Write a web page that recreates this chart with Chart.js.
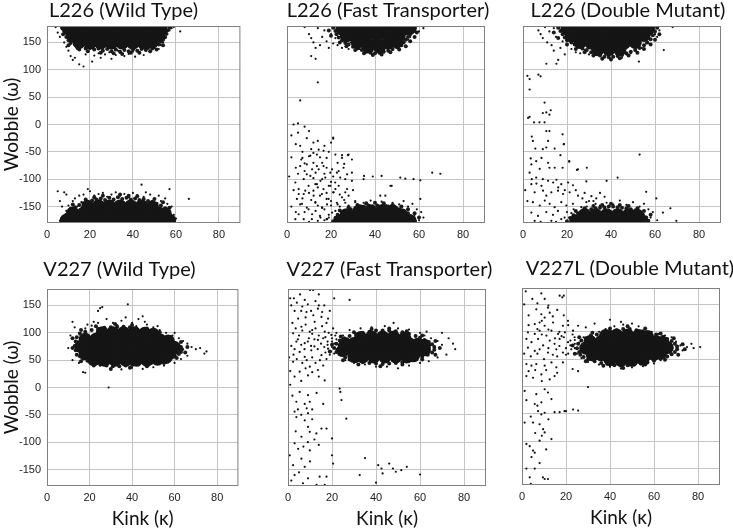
<!DOCTYPE html>
<html>
<head>
<meta charset="utf-8">
<script src="https://cdn.jsdelivr.net/npm/chart.js@4.4.1/dist/chart.umd.min.js"></script>
<style>
    html, body { margin: 0; padding: 0; background: #fff; width: 733px; height: 531px; overflow: hidden; }
    canvas { position: absolute; }
</style>
</head>
<body>
<canvas id="p1"></canvas>
<canvas id="p2"></canvas>
<canvas id="p3"></canvas>
<canvas id="p4"></canvas>
<canvas id="p5"></canvas>
<canvas id="p6"></canvas>
<script>
const xTickValues = [0, 20, 40, 60, 80];
const yTickValues = [-150, -100, -50, 0, 50, 100, 150];
const panelTitles = ['L226 (Wild Type)', 'L226 (Fast Transporter)', 'L226 (Double Mutant)',
    'V227 (Wild Type)', 'V227 (Fast Transporter)', 'V227L (Double Mutant)'];
const xTitle = 'Kink (κ)';
const yTitle = 'Wobble (ω)';

// dense middle of each cloud [kink, wobble]
const l226WildCore = [
    [10,175],[15,175],[20,175],[25,175],[30,175],[35,175],[40,175],[45,175],[50,175],[53,175],
    [12,162],[17,162],[22,162],[27,162],[32,162],[37,162],[42,162],[47,162],[52,162],
    [15,150],[20,149],[25,149],[30,149],[35,149],[40,149],[45,149],[49,151],
    [9,-175],[14,-175],[19,-175],[24,-175],[29,-175],[34,-175],[39,-175],[44,-175],[49,-175],[54,-175],[57,-175],
    [12,-162],[17,-162],[22,-162],[27,-162],[32,-162],[37,-162],[42,-162],[47,-162],[52,-162],[55,-163],
    [19,-150],[24,-149],[29,-149],[34,-149],[39,-149],[44,-149],[49,-151]
];
// ragged rim of each cloud
const l226WildEdge = [
    [7,177],[8,171],[7.5,165],[9,160],[10,154],[11,149],[13,146],[14,141],[16,143],[18,139],[20,141],[22,137],
    [24,139],[26,135],[28,138],[30,134],[32,137],[34,133],[36,136],[38,134],[40,137],[42,135],[44,138],[46,136],
    [47,140],[49,139],[50,144],[52,146],[53,151],[54,155],[55,160],[55.5,166],[56,172],[57,177],[10,145],
    [15,137],[25,131],[35,129],[43,131],[51,137],[54,145],[12,156],[19,134],[31,130],[39,131],[48,134],
    [7,-177],[8,-171],[9,-165],[10,-159],[11,-154],[13,-151],[15,-147],[17,-144],[19,-141],[21,-139],[23,-137],
    [25,-135],[27,-138],[29,-134],[31,-137],[33,-133],[35,-136],[37,-134],[39,-137],[41,-135],[43,-138],
    [45,-136],[47,-140],[49,-141],[51,-145],[53,-148],[55,-153],[56,-158],[57,-164],[58,-170],[59,-176],
    [12,-146],[18,-137],[26,-130],[34,-128],[42,-131],[50,-136],[54,-142],[57,-152],[22,-133],[38,-130]
];
// loose single structures
const l226WildSpread = [
    [4,178],[5,168],[6,160],[7,174],[8,150],[9,142],[10,135],[11,125],[12,118],[13,122],[14,138],[15,110],
    [17,106],[18,128],[19,133],[20,138],[21,115],[22,126],[24,130],[25,122],[26,136],[27,128],[29,132],
    [30,120],[32,127],[33,135],[34,131],[36,125],[38,129],[40,133],[41,124],[42,136],[43,130],[45,127],
    [46,135],[48,132],[50,140],[52,138],[53,145],[54,150],[55,158],[56,165],[57,172],[58,176],[59,178],[62,170],
    [5,-122],[8,-124],[9,-128],[6,-140],[7,-150],[9,-158],[10,-148],[12,-140],[13,-135],[14,-150],[15,-130],
    [16,-142],[17,-128],[19,-118],[20,-122],[22,-130],[24,-127],[26,-125],[27,-138],[28,-132],[30,-128],
    [32,-124],[34,-130],[35,-136],[36,-127],[38,-133],[40,-125],[42,-129],[43,-138],[44,-110],[45,-132],
    [46,-124],[48,-128],[50,-136],[52,-130],[53,-140],[55,-135],[56,-145],[57,-118],[58,-150],[59,-165],
    [60,-172],[66,-136],[8,-170],[6,-176]
];

const l226FastCore = [
    [25,175],[29,175],[34,175],[39,175],[44,175],[49,175],[54,175],[56,176],
    [27,162],[31,162],[36,162],[41,162],[46,162],[51,162],
    [32,150],[36,149],[41,149],[46,149],[50,151],
    [37,142],[42,142],
    [24,-176],[29,-176],[34,-176],[39,-176],[44,-176],[49,-176],[54,-176],[56,-176],
    [27,-165],[32,-164],[37,-164],[42,-164],[47,-164],[52,-165],
    [33,-158],[38,-158],[43,-158],[48,-158]
];
const l226FastEdge = [
    [21,177],[22,171],[22.5,165],[23.5,159],[25,154],[26.5,149],[28,146],[30,142],[32,139],[34,136],[36,133],
    [38,131],[40,130],[42,131],[44,133],[46,135],[48,138],[50,141],[52,145],[53,150],[54,155],[55,160],
    [56,165],[57,171],[58,177],[19,172],[20,162],[24,150],[27,143],[31,136],[35,130],[39,127],[43,128],
    [47,132],[51,137],[54,143],[56,152],[58,160],[59,168],
    [21,-177],[22,-171],[23,-165],[25,-161],[27,-158],[29,-155],[31,-153],[33,-151],[35,-150],[37,-148],
    [39,-150],[41,-148],[43,-150],[45,-149],[47,-151],[49,-153],[51,-155],[53,-158],[55,-162],[56,-167],
    [57,-172],[58,-177],[24,-157],[28,-151],[32,-147],[36,-144],[40,-143],[44,-144],[48,-147],[52,-150],
    [55,-155],[58,-162],[60,-170]
];
const l226FastSpread = [
    [8,178],[10,165],[11,158],[12,150],[13,140],[13,120],[11,125],[14,176],[15,145],[16,160],[17,172],
    [18,152],[19,140],[20,165],[21,148],[22,158],[23,145],[24,150],[25,140],[27,148],[28,138],[29,150],
    [30,143],[31,135],[33,138],[35,132],[44,133],[46,138],[48,136],[50,142],[52,145],[53,150],[55,155],
    [56,160],[57,168],[58,174],[60,170],[62,176],
    [14,77],[6,44],
    [3,0],[5,2],[8,-4],[10,-12],[4,-36],[6,-39],[12,-33],[14,-30],[17,-39],[20,-33],[21,-26],[21,-24],
    [4,-79],[6.5,-64],[8,-71],[10.6,-57],[13.6,-55],[16.6,-48],[22,-55],[25,-56],[27.7,-56],[7,-61],
    [10,-58],[12,-52],[14.4,-46],[18,-61],[25,-61],[28,-55],[29.5,-64],
    [3.8,-106],[7.6,-100],[9,-91],[11.4,-82],[13.6,-76],[16,-70],[18,-79],[20.5,-82],[23.5,-85],
    [25.7,-79],[29.5,-88],[26.5,-100],[6,-76],[9,-73],[12,-70],[14.4,-82],[16.6,-76],[19.7,-88],
    [22.7,-88],[24.2,-97],[27.3,-91],[29.5,-103],[10.6,-94],[17.4,-97],[15.2,-103],
    [5.3,-118],[7.6,-127],[9.8,-112],[12,-121],[13.6,-109],[15,-130],[16.6,-118],[19,-112],[21,-124],
    [23.5,-112],[26.5,-124],[12.9,-109],[19.7,-112],[21.9,-106],[5.3,-127],[8.3,-121],[12.1,-130],
    [15.9,-127],[18.9,-136],[21.2,-124],[25,-133],[27.3,-118],
    [4.5,-136],[6.8,-145],[9.8,-155],[12.9,-142],[16,-152],[18,-136],[20.5,-161],[5.3,-164],[3.8,-173],
    [11.3,-173],[15,-167],[18,-173],[6,-146],[9,-152],[12.9,-143],[15.9,-152],[18.2,-146],[22.7,-143],
    [26.5,-143],[31,-140],[34.8,-143],[7.6,-173],[11.4,-164],[15.2,-170],[18.2,-173],
    [2,-20],[5,-15],[9,-25],[7,-50],[11,-45],[15,-60],[19,-50],[23,-70],[26,-72],[5,-90],[8,-85],[12,-98],
    [17,-90],[21,-95],[3,-120],[10,-125],[14,-115],[18,-125],[22,-118],[24,-128],[28,-130],[30,-120],
    [7,-135],[11,-138],[14,-148],[17,-155],[20,-148],[24,-150],[8,-160],[13,-158],[2,-150],[4,-160],
    [10,-178],[14,-176],[19,-170],[1,-95],[2,-60],[13,-88],[16,-100],[20,-105],
    [35,-94],[39,-95],[43,-94],[47,-112],[51.5,-97],[53.8,-99],[57.5,-100],[60.6,-102],[47.6,-112],
    [60.6,-136],[44.7,-130],[66,-88],[69.7,-90],[42.4,-130],[34.8,-100],
    [20,-140],[23,-146],[26,-138],[28,-148],[31,-142],[33,-150],[36,-145],[38,-139],[41,-147],[43,-141],
    [46,-148],[48,-143],[51,-146],[53,-140],[55,-150],[57,-145],[59,-155],[61,-160],[62,-170],[60,-175],
    [58,-165],[22,-158],[19,-165],[17,-175],[21,-178]
];

const l226DoubleCore = [
    [20,175],[24,175],[29,175],[34,175],[39,175],[44,175],[49,175],[54,175],[57,175],
    [22,162],[27,162],[32,162],[37,162],[42,162],[47,162],[52,162],[55,163],
    [26,150],[31,149],[36,149],[41,149],[46,149],[51,150],
    [34,137],[39,137],[44,137],
    [24,-176],[29,-176],[34,-176],[39,-176],[44,-176],[49,-176],[54,-176],
    [28,-165],[33,-165],[38,-165],[43,-165],[48,-165],[52,-166]
];
const l226DoubleEdge = [
    [16,177],[17,171],[18,165],[19,159],[20,154],[22,150],[23.5,146],[25,142],[27,139],[29,136],[31,132],
    [33,129],[35,126],[37,124],[39,123],[41,124],[43,125],[45,127],[47,130],[49,133],[51,136],[53,140],
    [55,145],[56.5,150],[58,156],[59,163],[60,170],[61,177],[14,168],[16,158],[20,146],[24,138],[28,132],
    [32,126],[36,120],[40,119],[44,121],[48,126],[52,131],[55,138],[58,146],[60,155],[62,165],
    [20,-177],[21.5,-171],[23,-166],[25,-162],[27,-159],[29,-157],[31,-155],[33,-153],[35,-152],[37,-151],
    [39,-150],[41,-150],[43,-151],[45,-152],[47,-153],[49,-155],[51,-157],[53,-161],[54.5,-165],[56,-170],
    [57,-176],[24,-158],[28,-153],[32,-149],[36,-147],[40,-145],[44,-147],[48,-149],[52,-153],[55,-158],[58,-165]
];
const l226DoubleSpread = [
    [7,172],[8,165],[9,158],[11,150],[12,170],[13,145],[14,135],[15,160],[16,118],[17,140],[18,152],
    [19,128],[20,145],[22,138],[24,132],[26,130],[28,136],[30,128],[32,125],[34,130],[36,120],[45,122],
    [47,128],[49,130],[51,135],[52.7,115],[54,140],[56,148],[58,155],[60,165],[62,172],[64,136],[68,178],
    [61,160],[10,178],[14,176],
    [10.6,111],[15.2,111],[2,89],[3,83],[7,91],[8,88],[3,64],[9.8,40],[9,21],[10.6,22],[12.6,26],[12,18],
    [2.3,12],[3,14],[5,4],[7.5,4],[9.8,4],[10.6,-12],[12,-12],[18,-18],[4,-22],[4.5,-30],[11.4,-30],
    [18.6,-36],[5.6,-44],[9,-45],[10.6,-42],[14.4,-44],[17,-56],[3.5,-62],[6,-67],[8.4,-61],[11.4,-70],
    [21,-67],[3.8,-73],[7.6,-81],[12,-79],[14.4,-79],[18,-79],[25,-82],[29,-79],[3,-88],[6,-97],
    [38,-103],[28.8,-104],[53,-55],[43,-97],[56,-123],[60.6,-135],[63.6,-161],[67,-153],[69.7,-176],
    [24.5,-83],[21,-68],[18.5,-36],
    [3.8,-109],[6.1,-108],[8.4,-112],[11.4,-103],[13.7,-106],[15.2,-101],[17.4,-109],[20.5,-106],
    [22.7,-111],[5.3,-124],[9.1,-121],[10.6,-130],[12.9,-124],[15.9,-121],[18.2,-127],[21.2,-124],
    [25,-130],[31.1,-131],[33.3,-135],[37.1,-132],[4.5,-142],[7.6,-148],[9.9,-139],[12.1,-145],
    [14.4,-151],[17.4,-142],[19.7,-148],[22.7,-145],[26.5,-151],[28.8,-142],[3.8,-161],[6.8,-167],
    [10.6,-160],[13.6,-165],[15.9,-158],[18.9,-170],[22,-162],[25,-167],[5.3,-176],[12.9,-176],[17.4,-173],
    [4,-100],[9,-100],[16,-115],[19,-120],[24,-120],[27,-135],[30,-140],[33,-145],[23,-155],[20,-160],
    [8,-178],[15,-178],[2,-140],[1,-120],[24,-175],[21,-170],[28,-125],[35,-125],
    [29,-150],[32,-140],[35,-148],[38,-143],[41,-146],[44,-139],[47,-147],[50,-142],[53,-150],[55,-145],
    [57,-155],[59,-160],[58,-170],[61,-175]
];

const v227WildCore = [
    [26,100],[31,100],[36,100],[41,100],[46,99],[50,97],
    [18,88],[23,88],[28,88],[33,88],[38,88],[43,88],[48,88],[53,87],[57,85],
    [16,75],[21,75],[26,75],[31,75],[36,75],[41,75],[46,75],[51,75],[56,75],[60,73],
    [18,62],[23,62],[28,62],[33,62],[38,62],[43,62],[48,62],[53,62],[58,63],
    [22,51],[27,50],[32,50],[37,50],[42,50],[47,50],[52,52],[56,55]
];
const v227WildEdge = [
    [14,60],[13.5,68],[13,76],[13.5,84],[14,92],[15.5,98],[18,102],[21,105],[24,107],[27,109],[30,110],
    [33,111],[36,111],[39,110],[42,108],[45,105],[48,102],[51,98],[54,94],[56,90],[58,86],[60,82],[61.5,78],
    [63,74],[63.5,70],[63,65],[62,61],[60,57],[58,54],[55,50],[52,47],[49,45],[46,43],[43,42],[40,41],
    [37,40],[34,39],[31,39],[28,40],[25,42],[22,45],[19,49],[17,53],[15.5,57],
    [12,72],[12,90],[16,105],[23,112],[32,116],[40,114],[47,108],[53,101],[58,92],[63,83],[66,74],[65,64],
    [61,54],[55,45],[47,39],[39,36],[30,34],[22,40],[16,48]
];
const v227WildSpread = [
    [12,120],[13,110],[11,95],[10,72],[12,50],[15,45],[17,28],[18,27],[25,145],[26,147],[24,140],[29,0],
    [22,120],[28,125],[31,118],[35,122],[38,152],[40,118],[43,125],[45,130],[47,115],[50,110],[53,105],
    [56,100],[59,95],[62,90],[64,85],[66,80],[68,74],[70,70],[72,72],[74,62],[75,66],[66,58],[63,52],
    [60,45],[55,40],[50,37],[45,34],[40,36],[35,33],[30,35],[25,40],[20,45],[16,55],[14,85],[15,100],
    [18,108],[21,113],[60,100],[42,112],[33,114],[27,110],[19,115],[24,118],[37,128],[46,120],[52,112]
];

const v227FastCore = [
    [33,91],[38,92],[43,92],[48,92],[53,90],
    [26,80],[30,80],[35,80],[40,80],[45,80],[50,80],[55,80],[59,79],[62,77],
    [25,68],[29,68],[34,68],[39,68],[44,68],[49,68],[54,68],[59,68],[62,69],
    [30,57],[34,56],[39,56],[44,56],[49,56],[54,56],[57,58]
];
const v227FastEdge = [
    [21,72],[22,80],[22,65],[23.5,86],[25.5,90],[28,94],[31,97],[34,100],[37,102],[40,104],[43,104],[46,104],
    [49,103],[52,101],[55,98],[58,94],[60,91],[62,87],[64,83],[65.5,79],[66.5,74],[66.5,69],[65.5,64],
    [63.5,60],[61,56],[58,52],[55,49],[52,46],[49,45],[46,44],[43,43],[40,44],[37,45],[34,46],[31,48],
    [28,51],[26,55],[24,60],[23,68],
    [20,78],[24,93],[30,101],[38,107],[46,108],[54,103],[61,95],[67,85],[69,72],[67,60],[61,51],[52,42],
    [42,39],[32,42],[25,50],[19,66]
];
const v227FastSpread = [
    [1,163],[2.7,163],[10,178],[11.4,178],[7.6,160],[21,163],[28,160],[13.6,144],[8.4,138],[4.6,126],
    [12.1,120],[15.2,129],[18.2,126],[6.1,111],[9.9,102],[16.7,102],[2.3,99],[19.7,96],[24,93],[3.8,84],
    [7.6,81],[13.6,87],[5.3,65],[10.6,68],[15.2,59],[2.3,47],[7.6,56],[18.2,71],[28.8,68],[5.3,29],
    [9.9,38],[9.1,22],[13.6,32],[16.7,13],[23.5,-2],[23.8,-8],[24.3,-23],[26.5,-57],[5.3,-8],[9.1,-14],
    [3.8,-26],[7.6,-30],[9.9,-26],[3,-44],[9.1,-47],[3.8,-54],[7.6,-60],[9.1,-72],[15.2,-75],[17.5,-75],
    [6.1,-90],[9.9,-81],[12.9,-84],[3,-102],[4.6,-112],[0.8,-124],[9.9,-115],[6.1,-130],[2.3,-142],
    [7.6,-145],[20.5,-139],[3,-160],[9.1,-166],[14.4,-163],[17.5,-163],[6.8,-175],[16.7,-178],
    [20,-124],[20,-93],[14,150],[6,140],[11,105],[16,90],[12,75],[18,84],[20,74],[22,88],[17,64],
    [1.5,150],[3,140],[4,155],[5.5,170],[6.5,148],[8,128],[9,152],[10.5,140],[11.5,132],[12.5,158],
    [14,170],[15.5,138],[16.5,150],[17.5,118],[19,140],[20.5,108],[2,118],[3.5,108],[5,95],[6.5,104],
    [8,115],[9.5,90],[11,98],[12.5,108],[14,95],[15.5,112],[17,92],[18.5,100],[20,84],[21.5,95],[23,78],
    [24.5,72],[1.5,76],[3,70],[4.5,88],[6,78],[7.5,70],[9,84],[10.5,76],[12,88],[13.5,70],[15,80],
    [16.5,74],[18,78],[19.5,66],[21,62],[0.5,55],[2.5,60],[4,52],[6.5,45],[8.5,50],[11,55],[12.5,45],
    [14.5,50],[16,40],[17.5,52],[1,30],[3,20],[6,12],[8,35],[11,28],[14,20],[2,-15],[4.5,-40],[6,-50],
    [8.5,-38],[11,-58],[12,-95],[14,-105],[7,-108],[10,-135],[5,-155],[1.5,-170],[13,-178],[9,-100],
    [3.5,-80],[11,-40],[1,5],[16,-30],[13,-10],
    [35,-129],[41,-142],[42.5,-148],[46,-139],[47.7,-148],[49,-154],[51.5,-151],[54,-145],[32.6,-160],
    [40,-174],[60,-159],[43,-157],
    [20,90],[21,80],[22,70],[19,60],[22,100],[25,95],[28,105],[33,108],[38,110],[44,112],[48,118],
    [50,108],[55,106],[60,100],[62,95],[65,90],[68,85],[70,78],[73,90],[75,80],[76,70],[72,60],[68,55],
    [64,48],[60,45],[55,40],[50,35],[45,38],[40,38],[35,42],[30,45],[26,50],[23,60],[63,102],[70,100]
];

const v227lDoubleCore = [
    [38,93],[43,94],[48,94],[53,93],[57,91],
    [31,82],[36,82],[41,82],[46,82],[51,82],[56,82],[61,82],[64,80],
    [29,70],[33,70],[38,70],[43,70],[48,70],[53,70],[58,70],[63,70],[66,71],
    [32,58],[36,58],[41,58],[46,58],[51,58],[56,58],[60,59],[63,61],
    [40,49],[45,48],[50,48],[55,50]
];
const v227lDoubleEdge = [
    [25,70],[25.5,78],[26,63],[27,84],[29,88],[31.5,92],[34,95],[37,98],[40,101],[43,103],[46,105],[49,105],
    [52,103],[55,101],[58,98],[61,95],[64,91],[66,87],[68,83],[69.5,78],[70.5,73],[70.5,68],[69.5,63],
    [68,59],[66,55],[63,51],[60,47],[57,44],[54,42],[51,40],[48,39],[45,38],[42,39],[39,41],[36,43],
    [33,46],[30,50],[28,54],[26.5,58],
    [23,75],[26,90],[32,98],[40,106],[48,110],[56,106],[63,97],[69,88],[73,77],[74,68],[71,58],[65,49],
    [56,40],[46,34],[37,38],[29,46],[24,60]
];
const v227lDoubleSpread = [
    [1.7,174],[4.7,160],[8.8,170],[10.3,160],[17.1,166],[18.3,163],[19,166],[6.5,141],[8.8,132],
    [10.3,126],[12.6,135],[11.8,144],[5.8,114],[8,117],[10.3,111],[14.1,117],[18.6,111],[20.9,120],
    [2.7,99],[5.8,96],[8,102],[11.1,93],[13.4,102],[16.4,96],[19.5,99],[23.2,102],[25.5,111],
    [2,87],[4.3,81],[7.3,87],[9.6,75],[12.6,84],[14.8,78],[17.1,87],[20.9,81],[23.9,90],
    [2.7,71],[5.8,65],[8,68],[11.8,62],[15.6,68],[18.6,62],[22.4,68],
    [2,41],[4.3,38],[6.5,41],[10.3,38],[13.4,44],[15.6,35],[18.6,44],
    [2,19],[5,16],[8.8,22],[12.6,13],[14.8,19],
    [1.2,-8],[6.5,-14],[10.3,-5],[11.8,-11],[13.4,-23],[8.8,-29],[5.8,-32],
    [7.3,-45],[8.8,-51],[10.3,-48],[14.8,-47],[17.1,-47],[19.3,-45],[20,-45],[23.2,-42],[25.5,-44],
    [1.2,-66],[5,-66],[8,-69],[9.6,-78],[10.3,-84],[13.4,-96],[8,-99],
    [2,-105],[5,-117],[4.3,-129],[5.8,-150],[3.5,-166],[10.3,-169],[11.8,-169],[3.5,-109],[5.8,-121],
    [9.5,-166],[30,-1],[23,32],[25.5,28],[16,55],[20,58],[22,75],[24,85],[18,92],
    [1,150],[3,130],[7,152],[9,120],[12,148],[14,128],[16,140],[19,130],[21,112],[23,95],[3,112],[7,105],
    [9,95],[12,104],[15,88],[17,100],[19,90],[22,84],[24,78],[1,60],[4,55],[7,60],[10,50],[12,70],[14,58],
    [17,74],[20,70],[21,60],[3,28],[6,30],[9,10],[11,30],[16,25],[2,-25],[4,-55],[7,-35],[12,-60],[9,-90],
    [6,-85],[11,-115],[8,-140],[2,-150],[4,-178],
    [70,82],[72,75],[75,72],[77,78],[78,70],[81,72],[73,66],[68,60],[66,55],[63,48],[60,42],[55,37],
    [50,35],[45,33],[40,36],[35,40],[30,45],[27,52],[25,60],[24,70],[26,80],[28,90],[31,95],[35,100],
    [38,105],[42,110],[46,113],[50,115],[53,110],[56,105],[59,100],[62,96],[65,93],[68,90],[40,122],
    [33,115],[29,108],[45,118]
];

// where each panel's canvas sits; plot areas are 198 x 197
const panels = [
    { id: 'p1', core: l226WildCore, edge: l226WildEdge, spread: l226WildSpread, left: 0, top: 0, yw: 47, rp: 2, row: 0, labels: true },
    { id: 'p2', core: l226FastCore, edge: l226FastEdge, spread: l226FastSpread, left: 277, top: 0, yw: 10, rp: 14, row: 0, labels: false },
    { id: 'p3', core: l226DoubleCore, edge: l226DoubleEdge, spread: l226DoubleSpread, left: 513, top: 0, yw: 10, rp: 22, row: 0, labels: false },
    { id: 'p4', core: v227WildCore, edge: v227WildEdge, spread: v227WildSpread, left: -6, top: 259, yw: 53, rp: 0, row: 1, labels: true, ypad: 6 },
    { id: 'p5', core: v227FastCore, edge: v227FastEdge, spread: v227FastSpread, left: 278, top: 259, yw: 10, rp: 15, row: 1, labels: false },
    { id: 'p6', core: v227lDoubleCore, edge: v227lDoubleEdge, spread: v227lDoubleSpread, left: 512, top: 258, yw: 10, rp: 28, row: 1, labels: false }
];

const titleFont = { family: "Lato, 'Noto Sans', sans-serif", size: 20, weight: 'normal', lineHeight: '22px' };
const axisTitleFont = { family: "Lato, 'Noto Sans', sans-serif", size: 19, weight: 'normal' };
const tickFont = { family: "'Liberation Sans', Arial, sans-serif", size: 11 };

const framePlugin = {
    id: 'frame',
    afterDatasetsDraw(chart) {
        const { ctx, chartArea: a } = chart;
        ctx.save();
        ctx.strokeStyle = '#808080';
        ctx.lineWidth = 1;
        ctx.strokeRect(a.left + 0.5, a.top + 0.5, a.right - a.left - 1, a.bottom - a.top - 1);
        ctx.restore();
    }
};

function toPoints(list) {
    return list.map(([x, y]) => ({ x, y }));
}

function cloudSet(list, radius, color) {
    return {
        data: toPoints(list),
        yAxisID: 'y',
        pointRadius: radius,
        backgroundColor: color,
        borderWidth: 0,
        clip: 0
    };
}

panels.forEach((p, i) => {
    const canvas = document.getElementById(p.id);
    const titleGap = p.row === 0 ? 4 : 8;
    const xh = p.row === 0 ? 18 : 44;
    canvas.width = p.yw + 198 + p.rp;
    canvas.height = 22 + titleGap + 197 + xh;
    canvas.style.left = p.left + 'px';
    canvas.style.top = p.top + 'px';

    new Chart(canvas, {
        type: 'scatter',
        data: {
            datasets: [
                cloudSet(p.core, 6.6, '#151515'),
                cloudSet(p.edge, 2, '#1a1a1a'),
                cloudSet(p.spread, 1.1, '#111')
            ]
        },
        options: {
            responsive: false,
            animation: false,
            events: [],
            layout: { padding: 0 },
            plugins: {
                legend: { display: false },
                tooltip: { enabled: false },
                title: {
                    display: true,
                    text: panelTitles[i],
                    color: '#111',
                    font: titleFont,
                    padding: { top: 0, bottom: titleGap }
                }
            },
            scales: {
                x: {
                    type: 'linear',
                    min: 0,
                    max: 90,
                    afterBuildTicks: s => { s.ticks = xTickValues.map(v => ({ value: v })); },
                    afterFit: s => { s.height = xh; },
                    grid: { color: '#c4c4c4', lineWidth: 1, drawTicks: false },
                    border: { display: false },
                    ticks: { padding: 5, color: '#222', font: tickFont, maxRotation: 0 },
                    title: { display: p.row === 1, text: xTitle, color: '#111', font: axisTitleFont, padding: 0 }
                },
                y: {
                    type: 'linear',
                    min: -180,
                    max: 180,
                    afterBuildTicks: s => { s.ticks = yTickValues.map(v => ({ value: v })); },
                    afterFit: s => { s.width = p.yw; },
                    grid: { color: '#c4c4c4', lineWidth: 1, drawTicks: false },
                    border: { display: false },
                    ticks: { display: p.labels, padding: 6, color: '#222', font: tickFont },
                    title: { display: p.labels, text: yTitle, color: '#111', font: axisTitleFont,
                        padding: { top: p.ypad || 0, bottom: 0 } }
                },
                right: {
                    type: 'linear',
                    position: 'right',
                    afterFit: s => { s.width = p.rp; },
                    grid: { display: false },
                    border: { display: false },
                    ticks: { display: false }
                }
            }
        },
        plugins: [framePlugin]
    });
});
</script>
</body>
</html>
